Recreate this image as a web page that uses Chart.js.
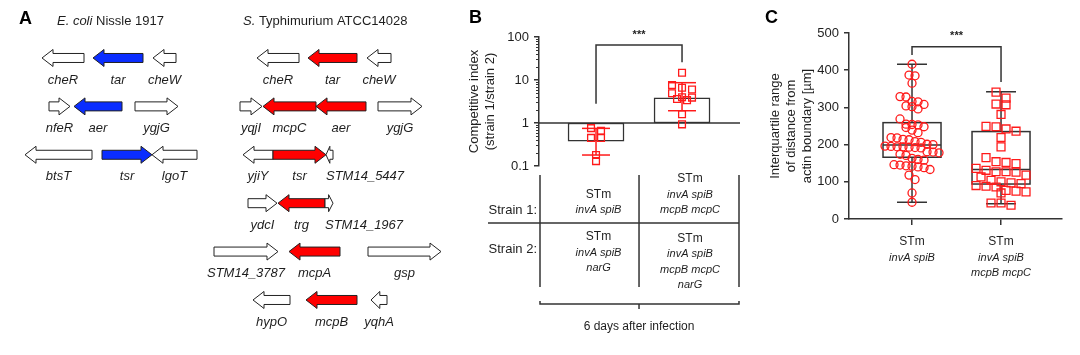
<!DOCTYPE html>
<html>
<head>
<meta charset="utf-8">
<title>Chemoreceptor figure</title>
<script src="https://cdn.jsdelivr.net/npm/chart.js@4.4.1/dist/chart.umd.min.js"></script>
<style>
  html, body { margin:0; padding:0; background:#ffffff; }
  body { width:1080px; height:355px; position:relative; overflow:hidden; }
  canvas { position:absolute; top:0; }
  #panelA { left:0; }
  #panelB { left:440px; }
  #panelC { left:750px; }
</style>
</head>
<body>
<canvas id="panelA" width="445" height="355"></canvas>
<canvas id="panelB" width="310" height="355"></canvas>
<canvas id="panelC" width="330" height="355"></canvas>
<script>
// ================= DATA =================
// ---- Panel A: gene neighbourhoods (relative position along locus) ----
const geneNames  = ['cheR','tar','cheW','nfeR','aer','ygjG','btsT','tsr','lgoT',
                    'cheR','tar','cheW','yqjI','mcpC','aer','ygjG','yjiY','tsr','STM14_5447',
                    'ydcI','trg','STM14_1967','STM14_3787','mcpA','gsp','hypO','mcpB','yqhA'];
const geneStart  = [42, 93,153, 49, 74,135, 25,102,152,
                    257,308,367,240,263,316,378,243,273,326,
                    248,278,325,214,289,368,253,306,371];
const geneEnd    = [84,143,176, 70,122,178, 92,152,197,
                    299,357,391,262,316,366,422,273,326,333,
                    277,325,333,278,340,441,290,357,387];
const geneRow    = [1,1,1,2,2,2,3,3,3,
                    1,1,1,2,2,2,2,3,3,3,
                    4,4,4,5,5,5,6,6,6];
const geneStrand = [-1,-1,-1, 1,-1, 1,-1, 1,-1,
                    -1,-1,-1, 1,-1,-1, 1,-1, 1,-1,
                     1,-1, 1, 1,-1, 1,-1,-1,-1];
const geneChemo  = [0,1,0,0,1,0,0,1,0,
                    0,1,0,0,1,1,0,0,1,0,
                    0,1,0,0,1,0,0,1,0];
const geneStrain = ['EcN','EcN','EcN','EcN','EcN','EcN','EcN','EcN','EcN',
                    'STm','STm','STm','STm','STm','STm','STm','STm','STm','STm',
                    'STm','STm','STm','STm','STm','STm','STm','STm','STm'];
const strainHeaders = [['E. coli', ' Nissle 1917'], ['S.', ' Typhimurium ATCC14028']];

// ---- Panel B: competitive index ----
const ciMean    = [0.38, 3.87];
const ciErrLow  = [0.18, 1.93];
const ciErrHigh = [0.75, 8.66];
const ciPoints1 = [0.76, 0.66, 0.45, 0.45, 0.18, 0.13];
const ciPoints2 = [14.8, 7.6, 6.6, 6.0, 4.9, 3.96, 3.9, 3.6, 3.4, 1.6, 0.93];
const ciTicks   = [0.1, 1, 10, 100];
const bRowLabels = ['Strain 1:', 'Strain 2:'];
const bStrain1  = [['STm', 'invA spiB'], ['STm', 'invA spiB', 'mcpB mcpC']];
const bStrain2  = [['STm', 'invA spiB', 'narG'], ['STm', 'invA spiB', 'mcpB mcpC', 'narG']];
const bFootnote = '6 days after infection';

// ---- Panel C: interquartile range of distance ----
const iqr1 = [416, 387, 385, 365, 329, 328, 316, 315, 308, 304, 302, 296, 269, 255, 254, 253, 248, 246,
              239, 232, 219, 218, 214, 213, 208, 206, 201, 200, 196, 195, 194, 193, 192, 194, 191,
              181, 180, 178, 174, 171, 163, 160, 158, 145, 146, 143, 142, 140, 138, 133, 118, 106, 70, 45];
const iqr2 = [341, 325, 309, 307, 281, 249, 248, 242, 236, 219, 194, 165, 154, 152, 149, 136, 131,
              127, 127, 126, 118, 113, 104, 100, 97, 95, 90, 88, 86, 77, 75, 73, 70, 43, 43, 37];
const boxMin = [45, 41];
const boxQ1  = [166, 94];
const boxMed = [199, 133];
const boxQ3  = [259, 235];
const boxMax = [416, 342];
const cTicks = [0, 100, 200, 300, 400, 500];
const cLabels = [['STm', 'invA spiB'], ['STm', 'invA spiB', 'mcpB mcpC']];
const cTitle = ['Interquartile range', 'of distance from', 'actin boundary [\u00b5m]'];
const bTitle = ['Competitive index', '(strain 1/strain 2)'];

// ================= STYLE =================
const FONT = '"Liberation Sans", Arial, Helvetica, sans-serif';
const TEXT = '#1e1e1e', AXIS = '#333333', RED = '#ff1a1a', BLUE = '#0a2dff', ARROW_RED = '#ff0000';
Chart.defaults.font.family = FONT;
Chart.defaults.color = TEXT;

function seg(ctx, x0, y0, x1, y1) { ctx.beginPath(); ctx.moveTo(x0, y0); ctx.lineTo(x1, y1); ctx.stroke(); }
function letter(ctx, t, x, y) {
  ctx.font = 'bold 18px ' + FONT; ctx.fillStyle = '#000'; ctx.textAlign = 'left'; ctx.textBaseline = 'middle';
  ctx.fillText(t, x, y);
}
function stars(ctx, x, y) {
  ctx.font = 'bold 11px ' + FONT; ctx.fillStyle = TEXT; ctx.textAlign = 'center'; ctx.textBaseline = 'middle';
  ctx.fillText('***', x, y);
}
function cellLines(ctx, lines, cx, yFirst, lh) {
  ctx.textAlign = 'center'; ctx.textBaseline = 'middle'; ctx.fillStyle = TEXT;
  lines.forEach((t, k) => {
    ctx.font = (k === 0 ? '12px ' : 'italic 11px ') + FONT;
    ctx.fillText(t, cx, yFirst + k * lh);
  });
}

// GraphPad-like scatter arrangement: points with similar values share a row
const swarmPlugin = {
  id: 'swarm',
  afterDatasetsUpdate(chart) {
    chart.data.datasets.forEach((ds, di) => {
      const sw = ds.swarm;
      if (!sw) return;
      const els = chart.getDatasetMeta(di).data.slice().sort((a, b) => a.y - b.y);
      const rows = [];
      let cur = null;
      els.forEach(el => {
        if (!cur || el.y - cur.y0 > sw.rowHeight || cur.items.length >= sw.maxPerRow) {
          cur = { y0: el.y, items: [] };
          rows.push(cur);
        }
        cur.items.push(el);
      });
      rows.forEach(r => {
        const n = r.items.length;
        r.items.forEach((el, k) => { el.x += (k - (n - 1) / 2) * sw.spacing; });
      });
    });
  }
};

// ================= PANEL A =================
function drawArrow(ctx, x0, x1, y, dir, fill) {
  const len = x1 - x0;
  const head = Math.min(11, len * 0.55);
  const bh = 4.5, hh = 8.5;
  ctx.beginPath();
  if (dir > 0) {
    ctx.moveTo(x0, y - bh); ctx.lineTo(x1 - head, y - bh); ctx.lineTo(x1 - head, y - hh);
    ctx.lineTo(x1, y); ctx.lineTo(x1 - head, y + hh); ctx.lineTo(x1 - head, y + bh); ctx.lineTo(x0, y + bh);
  } else {
    ctx.moveTo(x1, y - bh); ctx.lineTo(x0 + head, y - bh); ctx.lineTo(x0 + head, y - hh);
    ctx.lineTo(x0, y); ctx.lineTo(x0 + head, y + hh); ctx.lineTo(x0 + head, y + bh); ctx.lineTo(x1, y + bh);
  }
  ctx.closePath();
  ctx.fillStyle = fill; ctx.fill();
  ctx.lineWidth = 1; ctx.strokeStyle = '#222'; ctx.stroke();
}
const genesPlugin = {
  id: 'genes',
  afterDraw(chart, args, opts) {
    const { ctx, scales: { x, y } } = chart;
    ctx.save();
    letter(ctx, 'A', 19, 19);
    strainHeaders.forEach((h, i) => {
      let cx = opts.headerX[i];
      ctx.textAlign = 'left'; ctx.textBaseline = 'middle'; ctx.fillStyle = TEXT;
      ctx.font = 'italic 13px ' + FONT; ctx.fillText(h[0], cx, 21);
      cx += ctx.measureText(h[0]).width;
      ctx.font = '13px ' + FONT; ctx.fillText(h[1], cx, 21);
    });
    geneNames.forEach((name, i) => {
      const x0 = x.getPixelForValue(geneStart[i]), x1 = x.getPixelForValue(geneEnd[i]);
      const yc = y.getPixelForValue(geneRow[i]);
      const fill = geneChemo[i] ? (geneStrain[i] === 'EcN' ? BLUE : ARROW_RED) : '#ffffff';
      drawArrow(ctx, x0, x1, yc, geneStrand[i], fill);
      const small = (x1 - x0) < 12;
      ctx.font = 'italic 13px ' + FONT; ctx.fillStyle = TEXT; ctx.textBaseline = 'middle';
      ctx.textAlign = small ? 'left' : 'center';
      ctx.fillText(name, small ? x0 : (x0 + x1) / 2, yc + 22);
    });
    ctx.restore();
  }
};
new Chart(document.getElementById('panelA'), {
  type: 'scatter',
  data: { datasets: [{ data: [] }] },
  options: {
    responsive: false, animation: false, devicePixelRatio: 1,
    layout: { padding: 0 },
    plugins: { legend: { display: false }, tooltip: { enabled: false }, genes: { headerX: [57, 243] } },
    scales: {
      x: { type: 'linear', min: 0, max: 445, display: false },
      y: { type: 'linear', min: -0.198, max: 7.137, reverse: true, display: false }
    }
  },
  plugins: [genesPlugin]
});

// ================= PANEL B =================
const panelBPlugin = {
  id: 'panelB',
  afterDatasetDraw(chart, args) {
    if (args.index !== 0) return;
    const { ctx, chartArea: ca, scales: { x, y } } = chart;
    ctx.save();
    ctx.lineWidth = 1.5; ctx.strokeStyle = AXIS;
    const y1 = y.getPixelForValue(1);
    seg(ctx, ca.left, y1, ca.right, y1);
    ctx.strokeStyle = RED;
    ciMean.forEach((m, i) => {
      const cx = x.getPixelForValue(i + 1);
      const yh = y.getPixelForValue(ciErrHigh[i]), yl = y.getPixelForValue(ciErrLow[i]);
      seg(ctx, cx, yh, cx, yl);
      seg(ctx, cx - 14, yh, cx + 14, yh);
      seg(ctx, cx - 14, yl, cx + 14, yl);
    });
    ctx.restore();
  },
  afterDraw(chart, args, o) {
    const { ctx, chartArea: ca, scales: { x, y } } = chart;
    ctx.save();
    // minor log ticks
    ctx.strokeStyle = AXIS; ctx.lineWidth = 1;
    [0.1, 1, 10].forEach(d => {
      for (let m = 2; m <= 9; m++) {
        const yy = Math.round(y.getPixelForValue(m * d)) + 0.5;
        seg(ctx, ca.left - 3, yy, ca.left, yy);
      }
    });
    letter(ctx, 'B', 29, 18);
    // significance bracket
    ctx.lineWidth = 1.5; ctx.strokeStyle = AXIS;
    const xl = x.getPixelForValue(1), xr = x.getPixelForValue(2);
    const yt = y.getPixelForValue(o.sig[1]);
    ctx.beginPath();
    ctx.moveTo(xl, y.getPixelForValue(o.sig[0])); ctx.lineTo(xl, yt); ctx.lineTo(xr, yt);
    ctx.lineTo(xr, y.getPixelForValue(o.sig[2])); ctx.stroke();
    stars(ctx, (xl + xr) / 2, yt - 10);
    // strain table
    const bounds = [ca.left + 1, x.getPixelForValue(1.5), ca.right - 1];
    ctx.lineWidth = 1.5; ctx.strokeStyle = AXIS;
    bounds.forEach(bx => seg(ctx, bx, o.tableTop, bx, o.tableBottom));
    seg(ctx, o.tableLeft, o.tableMid, bounds[2], o.tableMid);
    ctx.font = '13px ' + FONT; ctx.fillStyle = TEXT; ctx.textAlign = 'right'; ctx.textBaseline = 'middle';
    ctx.fillText(bRowLabels[0], bounds[0] - 3, o.row1Last);
    ctx.fillText(bRowLabels[1], bounds[0] - 3, o.row2First + 12);
    for (let i = 0; i < 2; i++) {
      const cx = (bounds[i] + bounds[i + 1]) / 2 + o.colShift[i];
      const n1 = bStrain1[i].length;
      cellLines(ctx, bStrain1[i], cx, o.row1Last - (n1 - 1) * o.lh, o.lh);
      cellLines(ctx, bStrain2[i], cx, o.row2First + i * 1.5, o.lh);
    }
    // brace
    const by = o.braceY, bm = x.getPixelForValue(1.5);
    ctx.beginPath();
    ctx.moveTo(bounds[0], by - 3); ctx.lineTo(bounds[0], by); ctx.lineTo(bounds[2], by); ctx.lineTo(bounds[2], by - 3);
    ctx.stroke();
    seg(ctx, bm, by, bm, by + 5);
    ctx.font = '12px ' + FONT; ctx.textAlign = 'center'; ctx.fillStyle = TEXT;
    ctx.fillText(bFootnote, bm, o.footY);
    ctx.restore();
  }
};
new Chart(document.getElementById('panelB'), {
  type: 'bar',
  data: {
    datasets: [
      { type: 'bar', data: ciMean.map((m, i) => ({ x: i + 1, y: [1, m] })),
        backgroundColor: '#ffffff', borderColor: AXIS, borderWidth: 1.5, borderSkipped: false,
        barThickness: 56, order: 2 },
      { type: 'scatter', data: ciPoints1.map(v => ({ x: 1, y: v })),
        pointStyle: 'rect', radius: 4.8, borderColor: RED, backgroundColor: 'rgba(255,255,255,0)',
        borderWidth: 1.3, order: 1, swarm: { rowHeight: 5.5, spacing: 10, maxPerRow: 5 } },
      { type: 'scatter', data: ciPoints2.map(v => ({ x: 2, y: v })),
        pointStyle: 'rect', radius: 4.8, borderColor: RED, backgroundColor: 'rgba(255,255,255,0)',
        borderWidth: 1.3, order: 1, swarm: { rowHeight: 5.5, spacing: 10, maxPerRow: 5 } }
    ]
  },
  options: {
    responsive: false, animation: false, devicePixelRatio: 1,
    layout: { padding: { left: 27, right: 10, top: 37, bottom: 189 } },
    plugins: {
      legend: { display: false }, tooltip: { enabled: false },
      panelB: { sig: [2.8, 65, 26], tableTop: 175, tableBottom: 287, tableLeft: 48, tableMid: 223,
                row1Last: 210, row2First: 237, lh: 15.5, colShift: [9, 1], braceY: 304, footY: 327 }
    },
    scales: {
      x: { type: 'linear', min: 0.337, max: 2.674, offset: false, display: false },
      y: {
        type: 'logarithmic', min: 0.1, max: 100,
        afterBuildTicks(s) { s.ticks = ciTicks.map(v => ({ value: v })); },
        afterFit(s) { s.width = 72; },
        ticks: { callback: v => String(v), font: { size: 13 }, color: TEXT, padding: 5 },
        grid: { drawOnChartArea: false, tickLength: 5, color: AXIS, lineWidth: 1.5 },
        border: { color: AXIS, width: 1.5 },
        title: { display: true, text: bTitle, font: { size: 13 }, color: TEXT, padding: { top: 0, bottom: 0 } }
      }
    }
  },
  plugins: [swarmPlugin, panelBPlugin]
});

// ================= PANEL C =================
const panelCPlugin = {
  id: 'panelC',
  beforeDatasetsDraw(chart) {
    const { ctx, scales: { x, y } } = chart;
    ctx.save(); ctx.strokeStyle = AXIS; ctx.lineWidth = 1.5;
    boxMed.forEach((m, i) => {
      const cx = x.getPixelForValue(i + 1), hw = 29, cw = 15;
      const yq1 = y.getPixelForValue(boxQ1[i]), yq3 = y.getPixelForValue(boxQ3[i]);
      const ym = y.getPixelForValue(m), ylo = y.getPixelForValue(boxMin[i]), yhi = y.getPixelForValue(boxMax[i]);
      ctx.strokeRect(cx - hw, yq3, 2 * hw, yq1 - yq3);
      seg(ctx, cx - hw, ym, cx + hw, ym);
      seg(ctx, cx, yq3, cx, yhi); seg(ctx, cx - cw, yhi, cx + cw, yhi);
      seg(ctx, cx, yq1, cx, ylo); seg(ctx, cx - cw, ylo, cx + cw, ylo);
    });
    ctx.restore();
  },
  afterDraw(chart, args, o) {
    const { ctx, scales: { x, y } } = chart;
    ctx.save();
    letter(ctx, 'C', 15, 18);
    ctx.lineWidth = 1.5; ctx.strokeStyle = AXIS;
    const xl = x.getPixelForValue(1), xr = x.getPixelForValue(2);
    const yt = y.getPixelForValue(o.sig[1]);
    ctx.beginPath();
    ctx.moveTo(xl, y.getPixelForValue(o.sig[0])); ctx.lineTo(xl, yt); ctx.lineTo(xr, yt);
    ctx.lineTo(xr, y.getPixelForValue(o.sig[2])); ctx.stroke();
    stars(ctx, (xl + xr) / 2, yt - 11);
    cLabels.forEach((lines, i) => cellLines(ctx, lines, x.getPixelForValue(i + 1), o.labelY, o.lh));
    ctx.restore();
  }
};
new Chart(document.getElementById('panelC'), {
  type: 'scatter',
  data: {
    datasets: [
      { data: iqr1.map(v => ({ x: 1, y: v })), pointStyle: 'circle', radius: 4, borderColor: RED,
        backgroundColor: 'rgba(255,255,255,0)', borderWidth: 1.3,
        swarm: { rowHeight: 8, spacing: 6, maxPerRow: 10 } },
      { data: iqr2.map(v => ({ x: 2, y: v })), pointStyle: 'rect', radius: 5.6, borderColor: RED,
        backgroundColor: 'rgba(255,255,255,0)', borderWidth: 1.3,
        swarm: { rowHeight: 8, spacing: 10, maxPerRow: 6 } }
    ]
  },
  options: {
    responsive: false, animation: false, devicePixelRatio: 1,
    layout: { padding: { left: 18, right: 18, top: 33, bottom: 128 } },
    plugins: {
      legend: { display: false }, tooltip: { enabled: false },
      panelC: { sig: [441, 463, 368], labelY: 242, lh: 15.5 }
    },
    scales: {
      x: {
        type: 'linear', min: 0.292, max: 2.685,
        afterBuildTicks(s) { s.ticks = [{ value: 1 }, { value: 2 }]; },
        afterFit(s) { s.height = 8; },
        ticks: { display: false },
        grid: { drawOnChartArea: false, tickLength: 6, color: AXIS, lineWidth: 1.5 },
        border: { color: AXIS, width: 1.5 }
      },
      y: {
        type: 'linear', min: 0, max: 500,
        afterBuildTicks(s) { s.ticks = cTicks.map(v => ({ value: v })); },
        afterFit(s) { s.width = 81; },
        ticks: { font: { size: 13 }, color: TEXT, padding: 5 },
        grid: { drawOnChartArea: false, tickLength: 5, color: AXIS, lineWidth: 1.5 },
        border: { color: AXIS, width: 1.5 },
        title: { display: true, text: cTitle, font: { size: 13 }, color: TEXT, padding: { top: 0, bottom: 0 } }
      }
    }
  },
  plugins: [swarmPlugin, panelCPlugin]
});
</script>
</body>
</html>
